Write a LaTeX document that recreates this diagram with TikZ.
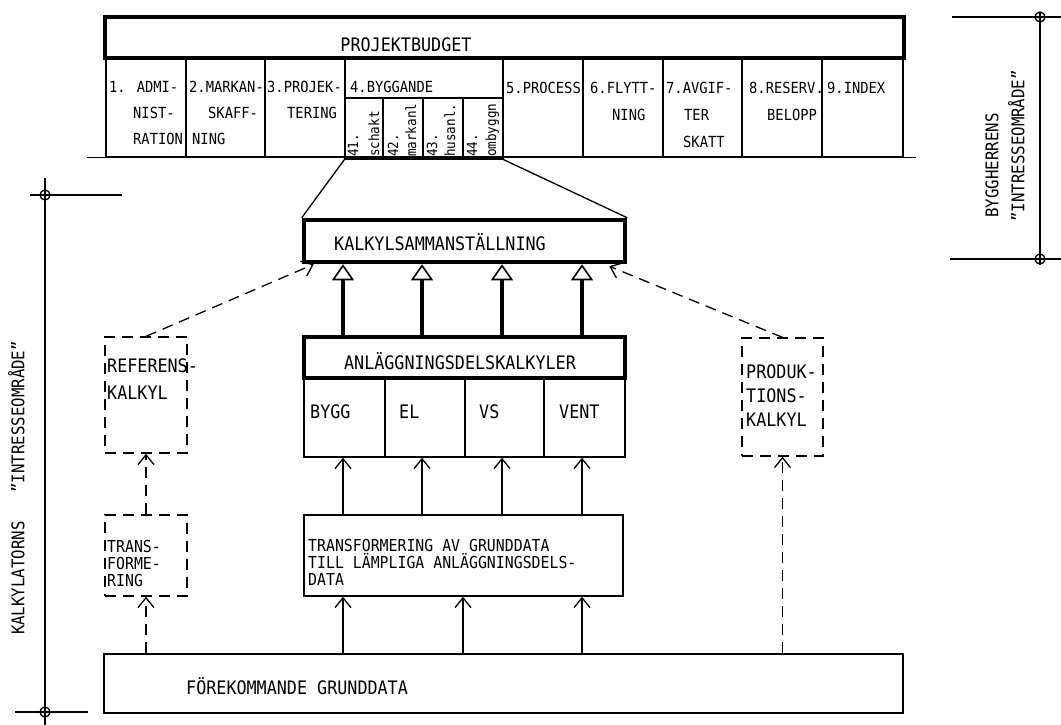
\documentclass[tikz,border=0pt]{standalone}
\usepackage{fontspec}
\usetikzlibrary{arrows.meta,fit,calc}
\newfontfamily\tw{DejaVu Sans Mono}[FakeStretch=0.9]
\begin{document}
\begin{tikzpicture}[x=1pt,y=-1pt,
  box/.style={draw, line width=1.3pt, inner sep=0pt},
  tbox/.style={draw, line width=4.5pt, inner sep=0pt},
  dbox/.style={draw, line width=1.3pt, dash pattern=on 11pt off 7pt, inner sep=0pt},
  big/.style={font=\tw\fontsize{18.6}{22}\selectfont, inner sep=0pt, text height=13.5pt, text depth=0pt},
  tl/.style={big, anchor=west},
  tight/.style={font=\tw\fontsize{16.5}{18}\selectfont, inner sep=0pt, text height=11.6pt, text depth=0pt, anchor=west},
  sm/.style={font=\tw\fontsize{15.3}{18}\selectfont, inner sep=0pt, text height=11.2pt, text depth=0pt, anchor=west},
  tiny/.style={font=\tw\fontsize{14}{16}\selectfont, inner sep=0pt, text height=10.2pt, text depth=0pt, anchor=west, rotate=90},
  side/.style={font=\tw\fontsize{17.5}{20}\selectfont, inner sep=0pt, text height=12.7pt, text depth=0pt, rotate=90},
  arr/.style={line width=1.3pt, -{Straight Barb[length=10pt,width=16pt]}},
  darr/.style={arr, dash pattern=on 11pt off 7pt},
  harr/.style={line width=4pt, -{Triangle[open,line width=1.6pt,length=16pt,width=22pt]}},
  ring/.style={draw, line width=1.3pt, circle, minimum size=10pt, inner sep=0pt}
]
\useasboundingbox (0,0) rectangle (1061,725);

% ---------------- Projektbudget ----------------
\node[tbox, fit={(105,17) (904,58)}] (pb) {};
\node[big] (pbt) at (406,45) {PROJEKTBUDGET};

\node[box, fit={(106,58) (186,157)}] (c1) {};
\node[box, fit={(186,58) (265,157)}] (c2) {};
\node[box, fit={(265,58) (345,157)}] (c3) {};
\node[box, fit={(345,58) (503,157)}] (c4) {};
\node[box, fit={(503,58) (583,157)}] (c5) {};
\node[box, fit={(583,58) (663,157)}] (c6) {};
\node[box, fit={(663,58) (742,157)}] (c7) {};
\node[box, fit={(742,58) (822,157)}] (c8) {};
\node[box, fit={(822,58) (903,157)}] (c9) {};
\node[box, fit={(345,98) (383,159)}] (s41) {};
\node[box, fit={(383,98) (423,159)}] (s42) {};
\node[box, fit={(423,98) (463,159)}] (s43) {};
\node[box, fit={(463,98) (503,159)}] (s44) {};
\draw[line width=1.3pt] ($(c1.south west)+(-18,0)$) -- ($(c9.south east)+(12,0)$);

\node[sm] (t1a) at (109,87) {1. ADMI-};
\node[sm] (t1b) at (133,113) {NIST-};
\node[sm] (t1c) at (133,139) {RATION};
\node[sm] (t2a) at (189,87) {2.MARKAN-};
\node[sm] (t2b) at (208,113) {SKAFF-};
\node[sm] (t2c) at (192,139) {NING};
\node[sm] (t3a) at (267,87) {3.PROJEK-};
\node[sm] (t3b) at (287,113) {TERING};
\node[sm] (t4a) at (350,87) {4.BYGGANDE};
\node[sm] (t5a) at (506,88) {5.PROCESS};
\node[sm] (t6a) at (590,88) {6.FLYTT-};
\node[sm] (t6b) at (612,115) {NING};
\node[sm] (t7a) at (666,88) {7.AVGIF-};
\node[sm] (t7b) at (684,115) {TER};
\node[sm] (t7c) at (683,142) {SKATT};
\node[sm] (t8a) at (749,88) {8.RESERV.};
\node[sm] (t8b) at (767,115) {BELOPP};
\node[sm] (t9a) at (827,88) {9.INDEX};

\node[tiny] (u41a) at (353,157) {41.};
\node[tiny] (u41b) at (374,157) {schakt};
\node[tiny] (u42a) at (393,157) {42.};
\node[tiny] (u42b) at (411,157) {markanl};
\node[tiny] (u43a) at (432,157) {43.};
\node[tiny] (u43b) at (450,157) {husanl.};
\node[tiny] (u44a) at (472,157) {44.};
\node[tiny] (u44b) at (491,157) {ombyggn};

% ---------------- Kalkylsammanställning ----------------
\node[tbox, fit={(304,220) (625,262)}] (kalk) {};
\node[big] (kalkt) at (440,244) {KALKYLSAMMANSTÄLLNING};
\draw[line width=1.3pt] (s41.south west) -- (kalk.north west);
\draw[line width=1.3pt] (s44.south east) -- (kalk.north east);

% ---------------- Anläggningsdelskalkyler ----------------
\node[tbox, fit={(304,337) (625,378)}] (anl) {};
\node[big] (anlt) at (460,363) {ANLÄGGNINGSDELSKALKYLER};
\node[box, fit={(304,378) (385,457)}] (bygg) {};
\node[box, fit={(385,378) (465,457)}] (el) {};
\node[box, fit={(465,378) (544,457)}] (vs) {};
\node[box, fit={(544,378) (625,457)}] (vent) {};
\node[tl] (byggt) at (310,412) {BYGG};
\node[tl] (elt) at (399,412) {EL};
\node[tl] (vst) at (479,412) {VS};
\node[tl] (ventt) at (559,412) {VENT};

\coordinate (xa) at (343,0);
\coordinate (xb) at (422,0);
\coordinate (xc) at (502,0);
\coordinate (xd) at (582,0);
\coordinate (xe) at (463,0);
\foreach \c in {xa,xb,xc,xd}
  \draw[harr] (\c |- anl.north) -- (\c |- kalk.south);

% ---------------- Referens / Produktion ----------------
\node[dbox, fit={(105,337) (187,453)}] (ref) {};
\node[tl] (reft1) at (107,366) {REFERENS-};
\node[tl] (reft2) at (107,393) {KALKYL};
\node[dbox, fit={(742,338) (823,456)}] (prod) {};
\node[tl] (prodt1) at (746,372) {PRODUK-};
\node[tl] (prodt2) at (746,396) {TIONS-};
\node[tl] (prodt3) at (746,420) {KALKYL};
\draw[darr] (ref.north) -- ($(kalk.south west)+(12,0)$);
\draw[darr] (prod.north) -- ($(kalk.south east)+(-18,2)$);

% ---------------- Transformering ----------------
\node[dbox, fit={(105,515) (187,596)}] (trs) {};
\node[tight] (trst1) at (107,547) {TRANS-};
\node[tight] (trst2) at (107,564) {FORME-};
\node[tight] (trst3) at (107,581) {RING};
\node[box, fit={(304,515) (623,596)}] (trb) {};
\node[tight] (trbt1) at (308,546) {TRANSFORMERING AV GRUNDDATA};
\node[tight] (trbt2) at (308,563) {TILL LÄMPLIGA ANLÄGGNINGSDELS-};
\node[tight] (trbt3) at (308,580) {DATA};
\draw[darr] (trs.north) -- (ref.south);
\foreach \c in {xa,xb,xc,xd}
  \draw[arr] (\c |- trb.north) -- (\c |- bygg.south);

% ---------------- Förekommande grunddata ----------------
\node[box, fit={(104,654) (903,713)}] (fg) {};
\node[tl] (fgt) at (186,688) {FÖREKOMMANDE GRUNDDATA};
\draw[darr] (fg.north -| trs.south) -- (trs.south);
\draw[darr] (fg.north -| prod.south) -- (prod.south);
\foreach \c in {xa,xe,xd}
  \draw[arr] (\c |- fg.north) -- (\c |- trb.south);

% ---------------- Left bracket ----------------
\node[ring] (lt) at (45,195) {};
\node[ring] (lb) at (45,712) {};
\draw[line width=1.3pt] ($(lt)+(0,-17)$) -- ($(lb)+(0,13)$);
\draw[line width=1.3pt] ($(lt)+(-15,0)$) -- ($(lt)+(77,0)$);
\draw[line width=1.3pt] ($(lb)+(-30,0)$) -- ($(lb)+(43,0)$);
\node[side] (ll) at (18,488) {KALKYLATORNS\ \ \ ”INTRESSEOMRÅDE”};

% ---------------- Right bracket ----------------
\node[ring] (rt) at (1040,17) {};
\node[ring] (rb) at (1040,259) {};
\draw[line width=1.3pt] ($(rt)+(0,-5)$) -- ($(rb)+(0,6)$);
\draw[line width=1.3pt] ($(rt)+(-88,0)$) -- ($(rt)+(21,0)$);
\draw[line width=1.3pt] ($(rb)+(-90,0)$) -- ($(rb)+(21,0)$);
\node[side, anchor=west] (rl1) at (992,218) {BYGGHERRENS};
\node[side, anchor=west] (rl2) at (1018,222) {”INTRESSEOMRÅDE”};
\end{tikzpicture}
\end{document}
